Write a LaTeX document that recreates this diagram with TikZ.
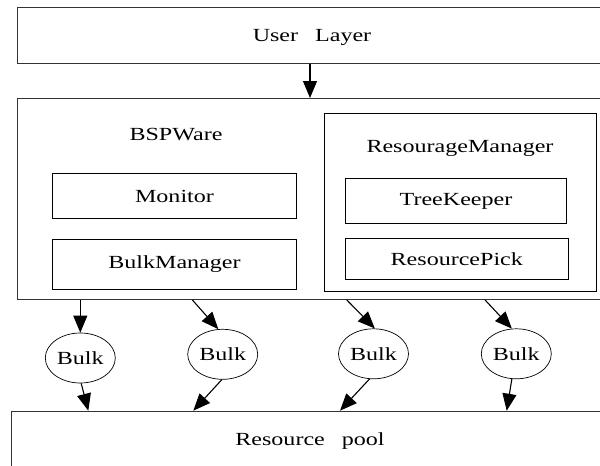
\documentclass[tikz,border=0pt]{standalone}
\usepackage{fontspec}
\setmainfont{Liberation Serif}[FakeStretch=1.3]
\usetikzlibrary{shapes.geometric,arrows.meta}
\begin{document}
\begin{tikzpicture}[x=1pt,y=-1pt,
  box/.style={draw=black!80,line width=0.9pt,inner sep=0pt,anchor=north west},
  inbox/.style={draw=black,line width=0.8pt,inner sep=0pt},
  bulk/.style={ellipse,draw,line width=0.7pt,minimum width=70pt,minimum height=50pt,inner sep=0pt},
  lbl/.style={inner sep=0pt,anchor=base},
  arr/.style={line width=1.1pt,-{Triangle[length=17pt,width=14pt]}},
  font=\fontsize{18.5}{22}\selectfont]
\useasboundingbox (0,0) rectangle (600,466);
\clip (0,0) rectangle (600,466);
\node[box,minimum width=620pt,minimum height=56pt] (ul) at (17,7) {};
\node[lbl] (ult) at (312,41) {User\hspace{17pt}Layer};
\node[box,minimum width=620pt,minimum height=201pt] (bsp) at (17,98) {};
\node[lbl] (bspt) at (176,140) {BSPWare};
\node[inbox,minimum width=244.4pt,minimum height=45pt] (mon) at (174.5,196.2) {Monitor};
\node[inbox,minimum width=244.4pt,minimum height=50pt] (bm) at (174.5,264) {BulkManager};
\node[box,draw=black,minimum width=271.7pt,minimum height=178pt] (rm) at (324.3,113.3) {};
\node[lbl] (rmt) at (460,152) {ResourageManager};
\node[inbox,minimum width=221.4pt,minimum height=45.4pt] (tk) at (456,201) {TreeKeeper};
\node[inbox,minimum width=223pt,minimum height=41pt] (rpk) at (456.8,258.8) {ResourcePick};
\node[bulk] (b1) at (80.3,358) {Bulk};
\node[bulk] (b2) at (222.7,354.3) {Bulk};
\node[bulk] (b3) at (373.5,353.8) {Bulk};
\node[bulk] (b4) at (516.3,353.8) {Bulk};
\node[box,minimum width=620pt,minimum height=80pt] (pool) at (11,410.7) {};
\node[lbl] (poolt) at (310,445) {Resource\hspace{17pt}pool};
\draw[arr] ([xshift=293pt]ul.south west) -- ([xshift=293pt]bsp.north west);
\draw[arr] (b1.north |- bsp.south) -- (b1.north);
\draw[arr] ([xshift=175.3pt]bsp.south west) -- (b2.100);
\draw[arr] ([xshift=329.7pt]bsp.south west) -- (b3.87);
\draw[arr] ([xshift=468pt]bsp.south west) -- (b4.100);
\draw[arr] (b1.-88) -- ([xshift=77.3pt]pool.north west);
\draw[arr] (b2.-92) -- ([xshift=182.3pt]pool.north west);
\draw[arr] (b3.-99) -- ([xshift=329pt]pool.north west);
\draw[arr] (b4.-100) -- ([xshift=495.7pt]pool.north west);
\end{tikzpicture}
\end{document}
